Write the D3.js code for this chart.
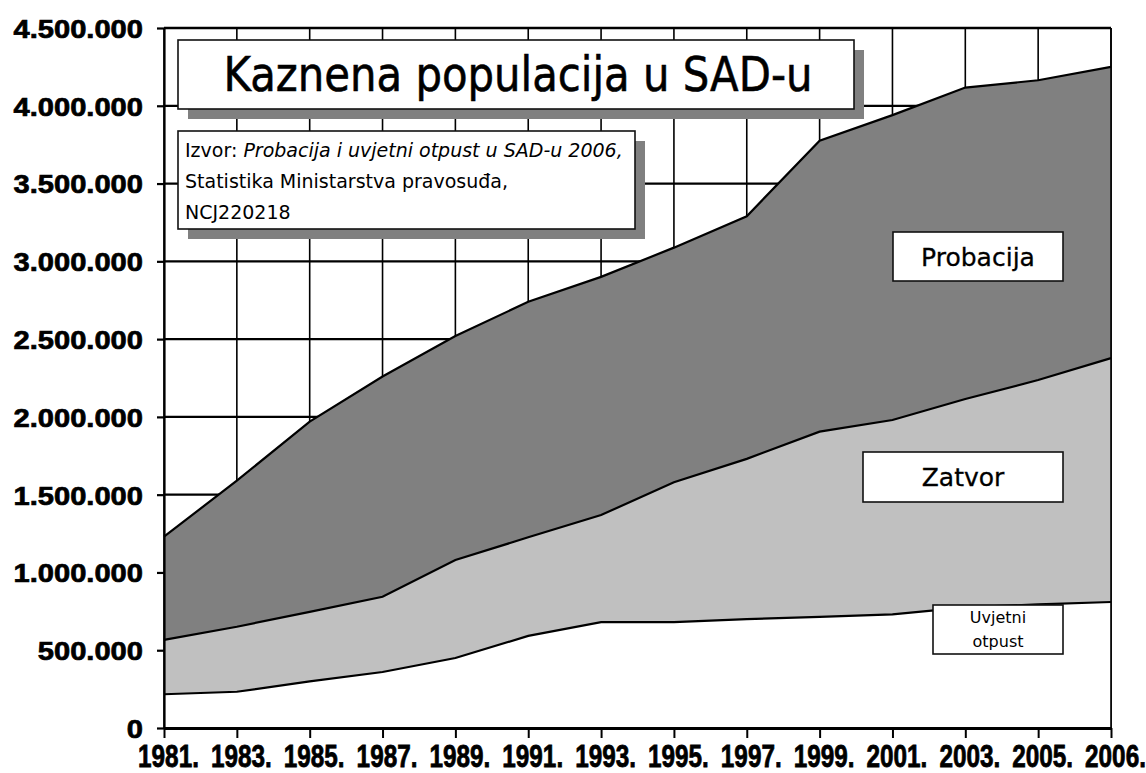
<!DOCTYPE html>
<html><head><meta charset="utf-8">
<script src="https://cdn.jsdelivr.net/npm/d3@7"></script>
<style>body{margin:0;background:#fff}svg{display:block}</style>
</head><body><svg id="chart" width="1146" height="773"></svg>
<script>
// ---- data (thousands of persons) ----
const years = ["1981.","1983.","1985.","1987.","1989.","1991.","1993.","1995.","1997.","1999.","2001.","2003.","2005.","2006."];
const uvjetniOtpust = [217, 233, 300, 360, 450, 592, 680, 680, 700, 715, 730, 775, 795, 810];
const zatvor        = [349, 418, 447, 484, 630, 634, 689, 900, 1030, 1190, 1250, 1340, 1442, 1568];
const probacija     = [664, 939, 1223, 1416, 1440, 1514, 1531, 1508, 1560, 1870, 1960, 2002, 1927, 1872];
const yTicks = [0, 500000, 1000000, 1500000, 2000000, 2500000, 3000000, 3500000, 4000000, 4500000];
const titleText = "Kaznena populacija u SAD-u";
const seriesKeys = ["uvjetni", "zatvor", "probacija"];
const seriesLabels = ["Uvjetni otpust", "Zatvor", "Probacija"];
const seriesColors = ["#ffffff", "#c0c0c0", "#808080"];

const rows = years.map((yr, i) => ({
  year: yr,
  uvjetni: uvjetniOtpust[i] * 1000,
  zatvor: zatvor[i] * 1000,
  probacija: probacija[i] * 1000
}));

const svg = d3.select("#chart");
const L = 164, R = 1111, T = 28, B = 728;
const x = d3.scalePoint().domain(years).range([L, R]);
const y = d3.scaleLinear().domain([0, 4500000]).range([B, T]);
const fmt = d3.formatLocale({decimal: ",", thousands: ".", grouping: [3], currency: ["", ""]}).format(",d");

// ---- grid ----
const grid = svg.append("g");
grid.selectAll("line.v").data(years).join("line")
  .attr("x1", d => x(d)).attr("x2", d => x(d)).attr("y1", T).attr("y2", B)
  .attr("stroke", "#000").attr("stroke-width", 1.6);
grid.selectAll("line.h").data(yTicks).join("line")
  .attr("x1", L).attr("x2", R).attr("y1", d => y(d)).attr("y2", d => y(d))
  .attr("stroke", "#000").attr("stroke-width", 2.2);

// ---- stacked areas ----
const layers = d3.stack().keys(seriesKeys)(rows);
const area = d3.area().x(d => x(d.data.year)).y0(d => y(d[0])).y1(d => y(d[1]));
const topLine = d3.line().x(d => x(d.data.year)).y(d => y(d[1]));
svg.append("g").selectAll("path").data(layers).join("path")
  .attr("d", area).attr("fill", (d, i) => seriesColors[i]);
svg.append("g").selectAll("path").data(layers).join("path")
  .attr("d", topLine).attr("fill", "none").attr("stroke", "#000").attr("stroke-width", 2.2);

// ---- frame ----
svg.append("line").attr("x1", L).attr("x2", R).attr("y1", T).attr("y2", T).attr("stroke", "#000").attr("stroke-width", 2.6);
svg.append("line").attr("x1", R).attr("x2", R).attr("y1", T).attr("y2", B).attr("stroke", "#000").attr("stroke-width", 1.6);

// ---- axes ----
const yAxis = svg.append("g").attr("transform", `translate(${L},0)`)
  .call(d3.axisLeft(y).tickValues(yTicks).tickSize(7).tickSizeOuter(0).tickFormat(fmt));
yAxis.select(".domain").attr("stroke", "#000").attr("stroke-width", 2.2);
yAxis.selectAll(".tick line").attr("stroke", "#000").attr("stroke-width", 2.2);
yAxis.selectAll(".tick text")
  .attr("x", 0).attr("dy", "0.36em")
  .attr("transform", "translate(-21,0) scale(1.12,1)")
  .attr("font-family", "Liberation Sans, Arial, sans-serif")
  .attr("font-weight", "bold").attr("font-size", 26).attr("fill", "#000")
  .attr("stroke", "#000").attr("stroke-width", 0.7);

const xAxis = svg.append("g").attr("transform", `translate(0,${B})`)
  .call(d3.axisBottom(x).tickSize(10).tickSizeOuter(0));
xAxis.select(".domain").attr("stroke", "#000").attr("stroke-width", 3);
xAxis.selectAll(".tick line").attr("stroke", "#000").attr("stroke-width", 2);
xAxis.selectAll(".tick text")
  .attr("y", 0).attr("dy", "0.71em")
  .attr("transform", "translate(4,16) scale(0.76,1)")
  .attr("font-family", "Liberation Sans, Arial, sans-serif")
  .attr("font-weight", "bold").attr("font-size", 32).attr("fill", "#000")
  .attr("stroke", "#000").attr("stroke-width", 0.8);

// ---- boxes ----
function box(x0, y0, w, h, shadow) {
  if (shadow) svg.append("rect").attr("x", x0 + 10).attr("y", y0 + 10).attr("width", w).attr("height", h).attr("fill", "#808080");
  svg.append("rect").attr("x", x0).attr("y", y0).attr("width", w).attr("height", h)
    .attr("fill", "#fff").attr("stroke", "#111").attr("stroke-width", 1.6);
}
const FONT = "DejaVu Sans, Verdana, sans-serif";

// title
box(178, 40, 676, 69, true);
svg.append("text").attr("x", 518).attr("y", 91).attr("text-anchor", "middle")
  .attr("font-family", FONT).attr("font-size", 48).attr("fill", "#000")
  .attr("stroke", "#000").attr("stroke-width", 0.6)
  .attr("textLength", 589).attr("lengthAdjust", "spacingAndGlyphs")
  .text(titleText);

// source
box(178, 131, 457, 98, true);
const src = svg.append("g").attr("font-family", FONT).attr("font-size", 19).attr("fill", "#000");
const l1 = src.append("text").attr("x", 185).attr("y", 157);
l1.append("tspan").text("Izvor: ");
l1.append("tspan").attr("font-style", "italic").text("Probacija i uvjetni otpust u SAD-u 2006,");
src.append("text").attr("x", 185).attr("y", 188).text("Statistika Ministarstva pravosuđa,");
src.append("text").attr("x", 185).attr("y", 219).text("NCJ220218");

// series labels
box(893, 232, 170, 49, false);
svg.append("text").attr("x", 978).attr("y", 266).attr("text-anchor", "middle")
  .attr("font-family", FONT).attr("font-size", 25).attr("fill", "#000").attr("stroke", "#000").attr("stroke-width", 0.3).text(seriesLabels[2]);
box(863, 452, 200, 50, false);
svg.append("text").attr("x", 963).attr("y", 486).attr("text-anchor", "middle")
  .attr("font-family", FONT).attr("font-size", 25).attr("fill", "#000").attr("stroke", "#000").attr("stroke-width", 0.3).text(seriesLabels[1]);
box(933, 605, 130, 49, false);
const uv = seriesLabels[0].split(" ");
svg.append("text").attr("x", 998).attr("y", 623).attr("text-anchor", "middle")
  .attr("font-family", FONT).attr("font-size", 16).attr("fill", "#000").text(uv[0]);
svg.append("text").attr("x", 998).attr("y", 647).attr("text-anchor", "middle")
  .attr("font-family", FONT).attr("font-size", 16).attr("fill", "#000").text(uv[1]);
</script>
</body></html>
